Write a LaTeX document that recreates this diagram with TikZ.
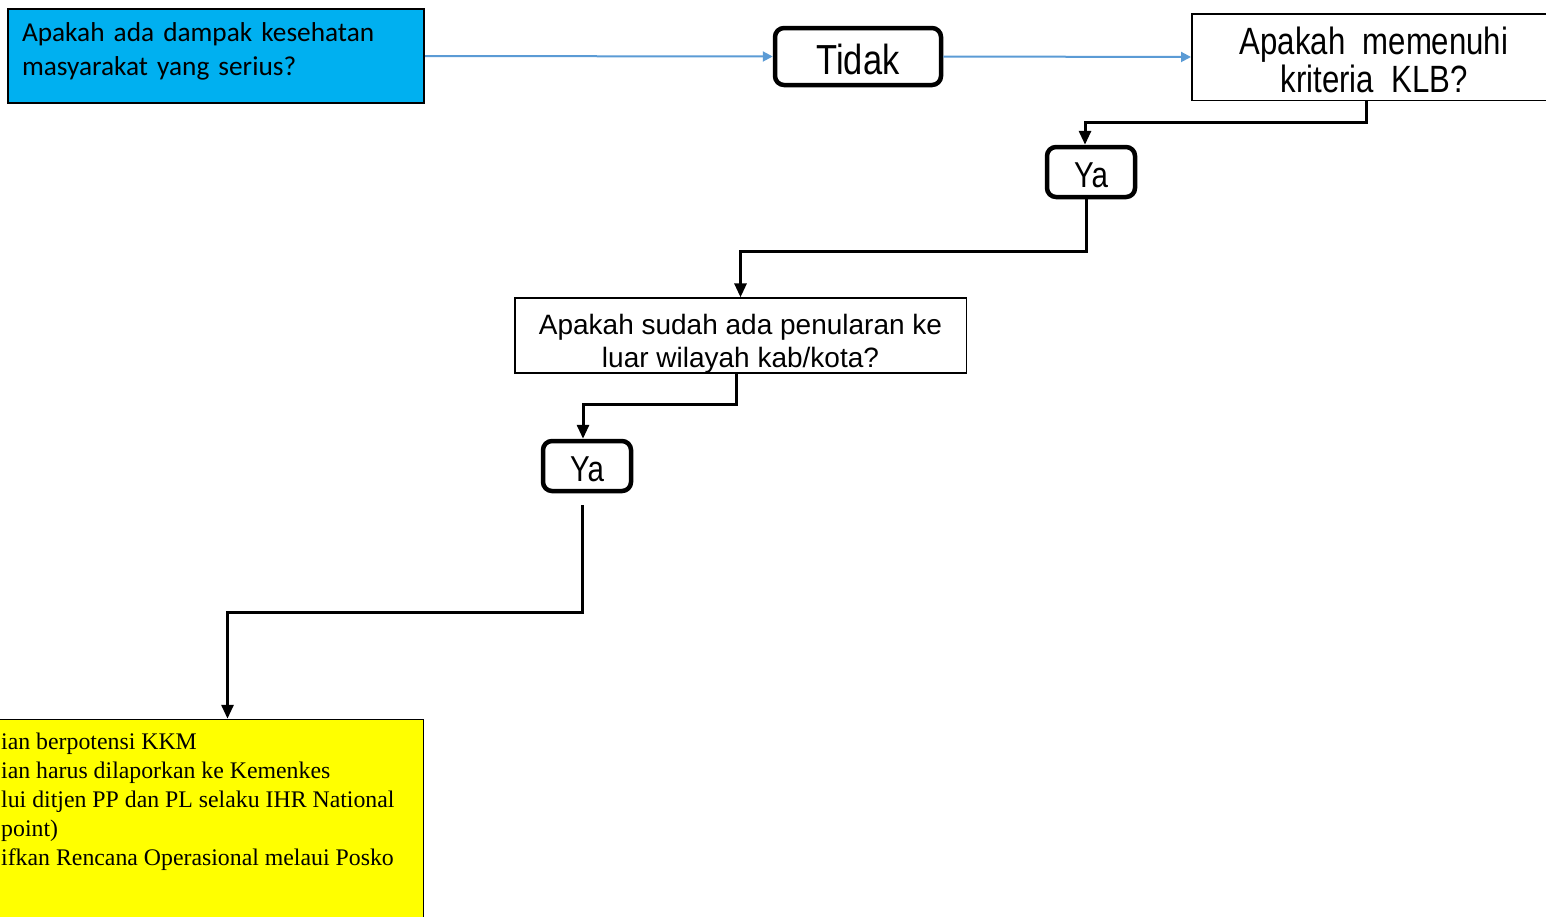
\documentclass[tikz,border=0pt]{standalone}
\usepackage{fontspec}
\setmainfont{Liberation Sans}
\newfontfamily\calibrifont{Carlito}
\newfontfamily\narrowfont[FakeStretch=0.82]{Liberation Sans}
\newfontfamily\timesfont{Liberation Serif}
\usetikzlibrary{arrows.meta}
\definecolor{cyanfill}{HTML}{00B0F0}
\definecolor{arrowblue}{HTML}{5B9BD5}
\definecolor{noteyellow}{HTML}{FFFF00}
\begin{document}
\begin{tikzpicture}[x=1pt,y=-1pt,
  question/.style={draw=black, line width=1.5pt, fill=white, inner sep=0pt, align=center},
  answer/.style={draw=black, line width=4.5pt, rounded corners=9pt, inner sep=0pt,
    minimum width=88pt, minimum height=50pt, font=\narrowfont\fontsize{36}{36}\selectfont},
  conn/.style={line width=3pt, -{Triangle[length=14pt,width=12pt]}},
  bluearrow/.style={draw=arrowblue, line width=2pt, -{Triangle[length=10pt,width=10pt]}}]
\useasboundingbox (0,0) rectangle (1546,916);
\clip (0,0) rectangle (1546,916);

% starting question
\node (start) [draw=black, line width=2pt, fill=cyanfill, inner xsep=14pt, inner ysep=0pt,
  text width=388pt, minimum height=94pt, align=left,
  font=\calibrifont\fontsize{27.3}{34}\selectfont] at (216,56)
  {Apakah ada dampak kesehatan\\masyarakat yang serius?\rule[-14pt]{0pt}{14pt}};

% first answer
\node (tidak) [answer, minimum width=166pt, minimum height=57pt,
  font=\narrowfont\fontsize{42}{42}\selectfont] at (858,56.5) {\rule{0pt}{36pt}Tidak};

% outbreak criteria question
\node (klb) [question, minimum width=364.5pt, minimum height=86.5pt,
  font=\narrowfont\fontsize{38}{38}\selectfont] at (1374,57)
  {\rule{0pt}{34pt}Apakah~~memenuhi\\kriteria~~KLB?};

\node (ya1) [answer] at (1091,172) {\rule{0pt}{32pt}Ya};

% spread question
\node (spread) [question, minimum width=451.5pt, minimum height=71.5pt,
  font=\fontsize{28}{33}\selectfont] at (740.5,335.5)
  {\rule{0pt}{36pt}Apakah sudah ada penularan ke\\luar wilayah kab/kota?};

\node (ya2) [answer] at (587,466) {\rule{0pt}{32pt}Ya};

% action box
\node (action) [draw=black, line width=1.5pt, fill=noteyellow, anchor=north east,
  minimum width=800pt, minimum height=300pt, inner sep=0pt] at (424.25,718.75) {};
\node (actiontext) [anchor=north west, inner sep=0pt, align=left,
  font=\timesfont\fontsize{23.8}{29}\selectfont] at (1,733)
  {ian berpotensi KKM\\ian harus dilaporkan ke Kemenkes\\lui ditjen PP dan PL selaku IHR National\\point)\\ifkan Rencana Operasional melaui Posko};

% connectors
\draw[bluearrow] (start.east) -- (tidak.west);
\draw[bluearrow] (tidak.east) -- (klb.west);
\draw[conn] ([xshift=-8pt]klb.south) -- ++(0,21) -| ([xshift=-6pt]ya1.north);
\draw[conn] ([xshift=-5pt]ya1.south) -- ++(0,52) -| (spread.north);
\draw[conn] ([xshift=-4.5pt]spread.south) -- ++(0,31) -| ([xshift=-4pt]ya2.north);
\draw[conn] ([xshift=-5pt,yshift=-12pt]ya2.south) -- ++(0,107) -| ([xshift=204pt]action.north);
\end{tikzpicture}
\end{document}
